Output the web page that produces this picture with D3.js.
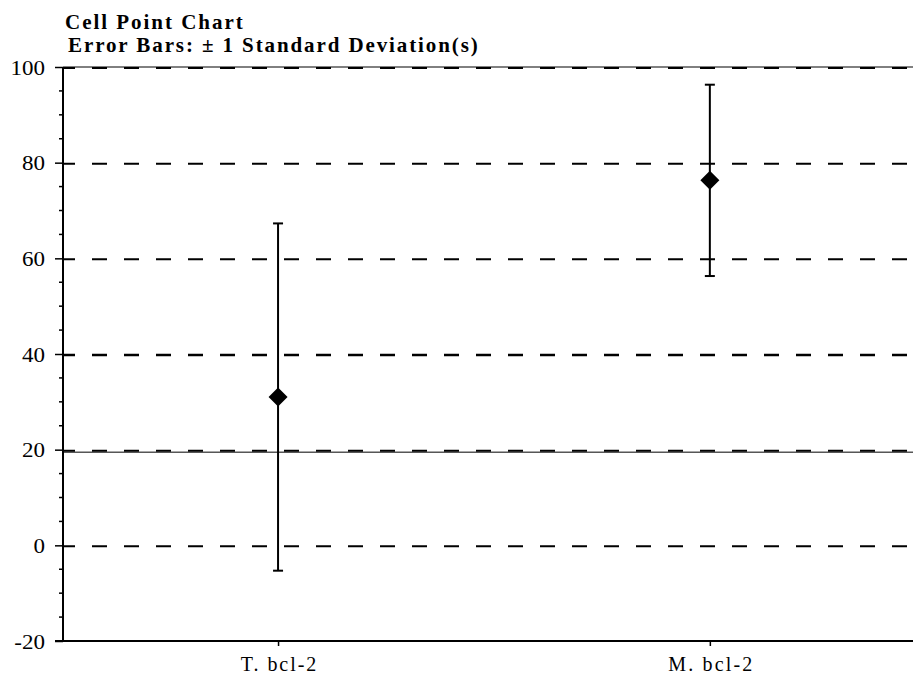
<!DOCTYPE html>
<html lang="en">
<head>
	<meta charset="utf-8" />
	<title>Cell Point Chart</title>
	<style>
		body { margin: 0; padding: 0; background: #fff; }
		svg text { font-family: 'Liberation Serif', Tinos, 'Times New Roman', Times, serif !important; fill: #000; }
	</style>
	<script src="https://d3js.org/d3.v7.min.js"></script>
</head>
<body>
	<div id="chart"></div>
	<script>
	// data
	const categories = ["T. bcl-2", "M. bcl-2"];
	const means = [31.0, 76.3];
	const sds = [36.3, 20.0];
	const gridValues = [100, 80, 60, 40, 20, 0];
	const yTicks = [-20, 0, 20, 40, 60, 80, 100];

	const width = 915, height = 676;
	const margin = { top: 67, right: 2, bottom: 35, left: 63 };

	// the original text is set wider than Liberation Serif
	function widen(sel, k, mode) {
		sel.each(function() {
			const w = this.getComputedTextLength();
			d3.select(this).attr("textLength", w * k).attr("lengthAdjust", mode || "spacingAndGlyphs");
		});
	}

	const svg = d3.select("#chart").append("svg")
		.attr("width", width)
		.attr("height", height);

	const y = d3.scaleLinear()
		.domain([-20, 100])
		.range([height - margin.bottom, margin.top]);

	const plotW = width - margin.left - margin.right;
	const x = d3.scalePoint()
		.domain(categories)
		.range([margin.left + plotW * 0.253, margin.left + plotW * 0.761]);

	// gridlines
	svg.append("g").selectAll("line")
		.data(gridValues)
		.enter()
		.append("line")
		.attr("x1", margin.left + 1)
		.attr("x2", width - margin.right)
		.attr("y1", d => y(d) + 1)
		.attr("y2", d => y(d) + 1)
		.style("stroke", "#000")
		.style("stroke-width", d => d === 40 ? 2.6 : 2)
		.style("stroke-dasharray", "15,17")
		.style("stroke-dashoffset", 4);

	// thin solid line at 20 and frame top
	svg.append("line")
		.attr("x1", margin.left).attr("x2", width - margin.right)
		.attr("y1", y(20) + 2.5).attr("y2", y(20) + 2.5)
		.style("stroke", "#000").style("stroke-width", 1);
	svg.append("line")
		.attr("x1", margin.left).attr("x2", width - margin.right)
		.attr("y1", y(100)).attr("y2", y(100))
		.style("stroke", "#000").style("stroke-width", 1);

	// y axis
	const yAxis = d3.axisLeft(y).tickValues(yTicks).tickSize(8).tickPadding(10)
		.tickFormat(d => String(d));
	const gy = svg.append("g")
		.attr("transform", `translate(${margin.left},0)`)
		.call(yAxis);
	gy.select(".domain").remove();
	gy.selectAll(".tick line").style("stroke", "#000").style("stroke-width", 1.5);
	gy.selectAll("text")
		.attr("dy", "0.36em")
		.style("font-size", "20px");
	widen(gy.selectAll("text"), 1.15);
	gy.append("g").selectAll("line")
		.data(d3.range(-20, 101, 5).filter(d => d % 20 !== 0))
		.enter()
		.append("line")
		.attr("x1", -4).attr("x2", 0)
		.attr("y1", d => y(d)).attr("y2", d => y(d))
		.style("stroke", "#000").style("stroke-width", 1.5);
	svg.append("line")
		.attr("x1", margin.left).attr("x2", margin.left)
		.attr("y1", y(100)).attr("y2", y(-20) + 1)
		.style("stroke", "#000").style("stroke-width", 2);

	// x axis
	const xAxis = d3.axisBottom(x).tickSize(5).tickPadding(11);
	const gx = svg.append("g")
		.attr("transform", `translate(0,${y(-20)})`)
		.call(xAxis);
	gx.select(".domain").remove();
	gx.selectAll(".tick line").style("stroke", "#000").style("stroke-width", 1.5);
	gx.selectAll("text")
		.style("font-size", "20px");
	widen(gx.selectAll("text"), 1.22, "spacing");
	svg.append("line")
		.attr("x1", margin.left - 8).attr("x2", width - margin.right)
		.attr("y1", y(-20)).attr("y2", y(-20))
		.style("stroke", "#000").style("stroke-width", 2);

	// error bars
	const pts = categories.map((c, i) => ({ cat: c, mean: means[i], sd: sds[i] }));
	const eb = svg.append("g").selectAll("g")
		.data(pts)
		.enter()
		.append("g");
	eb.append("line")
		.attr("x1", d => x(d.cat)).attr("x2", d => x(d.cat))
		.attr("y1", d => y(d.mean + d.sd)).attr("y2", d => y(d.mean - d.sd))
		.style("stroke", "#000").style("stroke-width", 2);
	eb.append("line")
		.attr("x1", d => x(d.cat) - 5).attr("x2", d => x(d.cat) + 5)
		.attr("y1", d => y(d.mean + d.sd)).attr("y2", d => y(d.mean + d.sd))
		.style("stroke", "#000").style("stroke-width", 2);
	eb.append("line")
		.attr("x1", d => x(d.cat) - 5).attr("x2", d => x(d.cat) + 5)
		.attr("y1", d => y(d.mean - d.sd)).attr("y2", d => y(d.mean - d.sd))
		.style("stroke", "#000").style("stroke-width", 2);
	eb.append("path")
		.attr("d", d => {
			const cx = x(d.cat), cy = y(d.mean), r = 9.5;
			return `M${cx},${cy - r}L${cx + r},${cy}L${cx},${cy + r}L${cx - r},${cy}Z`;
		})
		.style("fill", "#000");

	// titles
	const t1 = svg.append("text")
		.attr("x", 65).attr("y", 29)
		.style("font-size", "21px").style("font-weight", "bold")
		.text("Cell Point Chart");
	const t2 = svg.append("text")
		.attr("x", 68).attr("y", 52)
		.style("font-size", "21px").style("font-weight", "bold")
		.text("Error Bars: \u00b1 1 Standard Deviation(s)");
	widen(t1, 1.2, "spacing");
	widen(t2, 1.2, "spacing");
	</script>
</body>
</html>
